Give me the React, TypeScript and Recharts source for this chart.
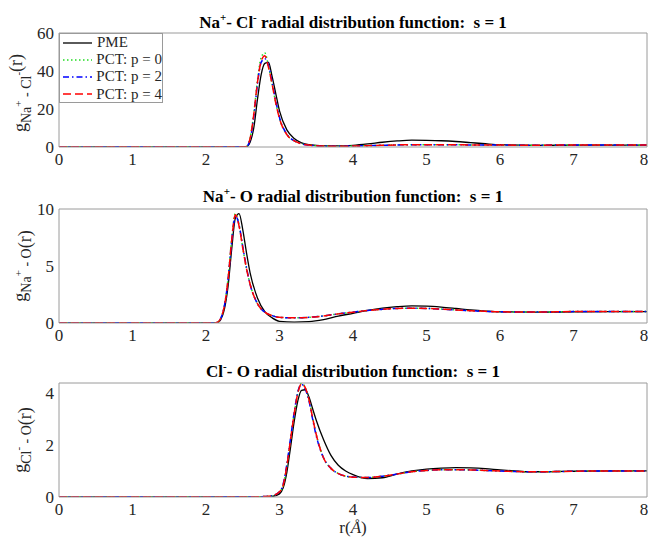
import React from "react";
import { LineChart, Line, XAxis, YAxis, Legend } from "recharts";

const FONT = "'Liberation Serif', 'Times New Roman', serif";
const BOX = "#9a9a9a";
const INK = "#262626";

const xTicks = [0, 1, 2, 3, 4, 5, 6, 7, 8];
const naClTicks = [0, 20, 40, 60];
const naOTicks = [0, 5, 10];
const clOTicks = [0, 2, 4];

// Na+ - Cl-
const rNaCl = [0, 1, 2, 2.5, 2.55, 2.6, 2.65, 2.7, 2.75, 2.8, 2.85, 2.9, 2.95, 3.0, 3.1, 3.2, 3.3, 3.4, 3.6, 3.8, 4.0, 4.2, 4.4, 4.6, 4.8, 5.0, 5.2, 5.4, 5.6, 5.8, 6.0, 6.5, 7.0, 7.5, 8.0];
const naClPme = [0, 0, 0, 0, 0.1, 2.5, 10, 25, 38, 44, 44.5, 37, 28, 19, 9, 4.5, 2.2, 1.2, 0.6, 0.6, 0.9, 1.6, 2.5, 3.2, 3.6, 3.5, 3.3, 2.9, 2.3, 1.7, 1.2, 0.9, 0.95, 1.0, 1.0];
const naClP0 = [0, 0, 0, 0, 0.3, 4.8, 17.5, 35, 47, 49.5, 42.5, 33, 23, 15, 6.6, 3.2, 1.7, 1.0, 0.5, 0.4, 0.5, 0.7, 0.9, 1.1, 1.2, 1.25, 1.2, 1.15, 1.1, 1.05, 1.0, 0.98, 1.0, 1.0, 1.0];
const naClP2 = [0, 0, 0, 0, 0.2, 4.0, 16, 33, 44.5, 46.5, 43, 34, 24, 15.5, 6.8, 3.3, 1.7, 1.0, 0.5, 0.4, 0.5, 0.7, 0.9, 1.1, 1.2, 1.25, 1.2, 1.15, 1.1, 1.05, 1.0, 0.98, 1.0, 1.0, 1.0];
const naClP4 = [0, 0, 0, 0, 0.3, 4.5, 17, 34, 45, 48, 42, 33, 23, 15, 6.5, 3.2, 1.7, 1.0, 0.5, 0.4, 0.5, 0.7, 0.9, 1.1, 1.2, 1.25, 1.2, 1.15, 1.1, 1.05, 1.0, 0.98, 1.0, 1.0, 1.0];

// Na+ - O
const rNaO = [0, 1, 2, 2.1, 2.15, 2.2, 2.25, 2.3, 2.35, 2.4, 2.45, 2.5, 2.55, 2.6, 2.7, 2.8, 2.9, 3.0, 3.2, 3.4, 3.6, 3.8, 4.0, 4.2, 4.4, 4.6, 4.8, 5.0, 5.2, 5.4, 5.6, 5.8, 6.0, 6.5, 7.0, 7.5, 8.0];
const naOPme = [0, 0, 0, 0, 0.03, 0.3, 1.2, 3.2, 6.5, 9.2, 9.6, 8.2, 6.2, 4.4, 2.2, 1.0, 0.45, 0.15, 0.08, 0.12, 0.3, 0.6, 0.85, 1.1, 1.3, 1.43, 1.5, 1.48, 1.4, 1.28, 1.15, 1.05, 0.98, 0.95, 0.98, 1.0, 1.0];
const naOP0 = [0, 0, 0, 0, 0.05, 0.4, 1.5, 3.9, 7.4, 9.6, 8.6, 6.6, 4.8, 3.4, 1.7, 0.95, 0.65, 0.5, 0.45, 0.5, 0.62, 0.8, 0.95, 1.1, 1.2, 1.28, 1.3, 1.28, 1.22, 1.15, 1.08, 1.02, 0.98, 0.96, 1.0, 1.0, 1.0];
const naOP2 = [0, 0, 0, 0, 0.05, 0.4, 1.5, 3.8, 7.2, 9.4, 8.6, 6.7, 4.9, 3.4, 1.7, 0.95, 0.65, 0.5, 0.45, 0.5, 0.62, 0.8, 0.95, 1.1, 1.2, 1.28, 1.3, 1.28, 1.22, 1.15, 1.08, 1.02, 0.98, 0.96, 1.0, 1.0, 1.0];
const naOP4 = [0, 0, 0, 0, 0.05, 0.4, 1.5, 3.8, 7.3, 9.5, 8.5, 6.6, 4.8, 3.4, 1.7, 0.95, 0.65, 0.5, 0.45, 0.5, 0.62, 0.8, 0.95, 1.1, 1.2, 1.28, 1.3, 1.28, 1.22, 1.15, 1.08, 1.02, 0.98, 0.96, 1.0, 1.0, 1.0];

// Cl- - O
const rClO = [0, 1, 2, 2.6, 2.8, 2.9, 3.0, 3.05, 3.1, 3.15, 3.2, 3.25, 3.3, 3.35, 3.4, 3.45, 3.5, 3.6, 3.7, 3.8, 3.9, 4.0, 4.2, 4.4, 4.6, 4.8, 5.0, 5.2, 5.4, 5.6, 5.8, 6.0, 6.2, 6.4, 6.6, 6.8, 7.0, 7.5, 8.0];
const clOPme = [0, 0, 0, 0, 0, 0.02, 0.12, 0.35, 0.95, 1.9, 2.9, 3.7, 4.1, 4.12, 3.85, 3.4, 2.95, 2.2, 1.6, 1.22, 1.0, 0.86, 0.71, 0.74, 0.88, 1.0, 1.07, 1.11, 1.13, 1.12, 1.09, 1.04, 1.0, 0.97, 0.97, 0.98, 0.99, 1.0, 1.0];
const clOP0 = [0, 0, 0, 0, 0.02, 0.05, 0.2, 0.45, 1.2, 2.2, 3.2, 4.0, 4.37, 4.2, 3.75, 3.05, 2.4, 1.5, 1.1, 0.9, 0.8, 0.76, 0.75, 0.8, 0.88, 0.97, 1.02, 1.05, 1.05, 1.04, 1.02, 1.0, 0.98, 0.97, 0.97, 0.98, 0.99, 1.0, 1.0];
const clOP2 = [0, 0, 0, 0, 0.02, 0.05, 0.2, 0.5, 1.25, 2.25, 3.25, 4.05, 4.33, 4.15, 3.7, 3.0, 2.35, 1.5, 1.1, 0.9, 0.8, 0.77, 0.75, 0.8, 0.88, 0.97, 1.02, 1.05, 1.05, 1.04, 1.02, 1.0, 0.98, 0.97, 0.97, 0.98, 0.99, 1.0, 1.0];
const clOP4 = [0, 0, 0, 0, 0.02, 0.05, 0.2, 0.45, 1.2, 2.2, 3.2, 4.0, 4.35, 4.2, 3.75, 3.05, 2.4, 1.5, 1.1, 0.9, 0.8, 0.76, 0.75, 0.8, 0.88, 0.97, 1.02, 1.05, 1.05, 1.04, 1.02, 1.0, 0.98, 0.97, 0.97, 0.98, 0.99, 1.0, 1.0];

const series = [
  { key: "pme", name: "PME", color: "#000000", dash: undefined, width: 1.3 },
  { key: "p0", name: "PCT: p = 0", color: "#22dd22", dash: "1.5 2.5", width: 1.5 },
  { key: "p2", name: "PCT: p = 2", color: "#0000ff", dash: "6 3 1.5 3", width: 1.5 },
  { key: "p4", name: "PCT: p = 4", color: "#ff0000", dash: "8 4", width: 1.5 },
];

const rows = (r: number[], pme: number[], p0: number[], p2: number[], p4: number[]) =>
  r.map((x, i) => ({ r: x, pme: pme[i], p0: p0[i], p2: p2[i], p4: p4[i] }));

const naClData = rows(rNaCl, naClPme, naClP0, naClP2, naClP4);
const naOData = rows(rNaO, naOPme, naOP0, naOP2, naOP4);
const clOData = rows(rClO, clOPme, clOP0, clOP2, clOP4);

// serif tick labels, drawn by hand so the font is certain
const XTick = ({ x, y, payload }: any) => (
  <text x={x} y={y} dy="0.71em" textAnchor="middle" fill={INK} fontSize={17} fontFamily={FONT}>
    {payload.value}
  </text>
);
const YTick = ({ x, y, payload }: any) => (
  <text x={x} y={y} dy="0.34em" textAnchor="end" fill={INK} fontSize={17} fontFamily={FONT}>
    {payload.value}
  </text>
);

function LegendBox() {
  return (
    <div
      style={{
        width: 104,
        height: 70,
        boxSizing: "border-box",
        border: `1px solid ${BOX}`,
        background: "#fff",
        fontFamily: FONT,
        fontSize: 15,
        color: INK,
      }}
    >
      {series.map((s) => (
        <div key={s.key} style={{ display: "flex", alignItems: "center", height: 17.2 }}>
          <svg width={36} height={10}>
            <line x1={3} x2={32} y1={5} y2={5} stroke={s.color} strokeWidth={s.width} strokeDasharray={s.dash} />
          </svg>
          <span style={{ marginLeft: 1, whiteSpace: "nowrap" }}>{s.name}</span>
        </div>
      ))}
    </div>
  );
}

interface PanelProps {
  data: { r: number }[];
  yTicks: number[];
  yMax: number;
  top: number;
  height: number;
  bottom: number;
  legend?: boolean;
}

function Panel({ data, yTicks, yMax, top, height, bottom, legend }: PanelProps) {
  const frame = { stroke: BOX };
  return (
    <div style={{ position: "absolute", left: 0, top }}>
      <LineChart width={648} height={height} data={data} margin={{ top: 33, right: 1, bottom, left: 0 }}>
        <XAxis xAxisId="x" dataKey="r" type="number" domain={[0, 8]} ticks={xTicks} height={25}
          axisLine={false} tickLine={false} tickSize={0} tickMargin={6} tick={<XTick />} />
        <XAxis xAxisId="xb" dataKey="r" type="number" domain={[0, 8]} ticks={xTicks} mirror
          tick={false} tickSize={5} axisLine={frame} tickLine={frame} />
        <XAxis xAxisId="xt" orientation="top" dataKey="r" type="number" domain={[0, 8]} ticks={xTicks} mirror
          tick={false} tickSize={5} axisLine={frame} tickLine={frame} />
        <YAxis yAxisId="y" type="number" domain={[0, yMax]} ticks={yTicks} width={59} allowDataOverflow
          axisLine={false} tickLine={false} tickSize={0} tickMargin={5} tick={<YTick />} />
        <YAxis yAxisId="yl" type="number" domain={[0, yMax]} ticks={yTicks} mirror allowDataOverflow
          tick={false} tickSize={5} axisLine={frame} tickLine={frame} />
        <YAxis yAxisId="yr" orientation="right" type="number" domain={[0, yMax]} ticks={yTicks} mirror allowDataOverflow
          tick={false} tickSize={5} axisLine={frame} tickLine={frame} />
        {series.map((s) => (
          <Line key={s.key} xAxisId="x" yAxisId="y" dataKey={s.key} name={s.name} type="monotone"
            stroke={s.color} strokeWidth={s.width} strokeDasharray={s.dash} dot={false} activeDot={false}
            isAnimationActive={false} />
        ))}
        {legend && (
          <Legend content={<LegendBox />} layout="vertical" align="center" verticalAlign="middle"
            wrapperStyle={{ left: 59, top: 33, width: 104, height: 70 }} />
        )}
      </LineChart>
    </div>
  );
}

function Title({ y, a, aSup, b, bSup }: { y: number; a: string; aSup: string; b: string; bSup?: string }) {
  return (
    <text x={353} y={y} textAnchor="middle" fontFamily={FONT} fontWeight="bold" fontSize={17} fill="#000" style={{ whiteSpace: "pre" }}>
      {a}
      <tspan fontSize={11} dy={-7}>{aSup}</tspan>
      <tspan dy={7}>{b}</tspan>
      {bSup && <tspan fontSize={11} dy={-7}>{bSup}</tspan>}
      <tspan dy={bSup ? 7 : 0}>{" radial distribution function:  s = 1"}</tspan>
    </text>
  );
}

function YLabel({ x, y, a, aSup, b, bSup }: { x: number; y: number; a: string; aSup: string; b: string; bSup?: string }) {
  return (
    <text transform={`translate(${x},${y}) rotate(-90)`} textAnchor="middle" fontFamily={FONT} fontSize={18} fill={INK} style={{ whiteSpace: "pre" }}>
      g
      <tspan fontSize={14} dy={5}>{a}</tspan>
      <tspan fontSize={11} dy={-9}>{aSup}</tspan>
      <tspan fontSize={14} dy={9}>{" " + b}</tspan>
      <tspan fontSize={11} dy={-9}>{bSup ?? ""}</tspan>
      <tspan fontSize={18} dy={0}>(r)</tspan>
    </text>
  );
}

export default function App() {
  return (
    <div style={{ position: "absolute", left: 0, top: 0, width: 648, height: 540, background: "#fff", fontFamily: FONT }}>
      <Panel data={naClData} yTicks={naClTicks} yMax={60} top={0} height={176} bottom={4} legend />
      <Panel data={naOData} yTicks={naOTicks} yMax={10} top={176} height={176} bottom={4} />
      <Panel data={clOData} yTicks={clOTicks} yMax={4.38} top={350} height={190} bottom={18} />
      <svg width={648} height={540} style={{ position: "absolute", left: 0, top: 0, pointerEvents: "none" }}>
        <Title y={28} a="Na" aSup="+" b="- Cl" bSup="-" />
        <Title y={202} a="Na" aSup="+" b="- O" />
        <Title y={377} a="Cl" aSup="-" b="- O" />
        <YLabel x={26} y={93} a="Na" aSup="+" b="- Cl" bSup="-" />
        <YLabel x={26} y={266} a="Na" aSup="+" b="- O" />
        <YLabel x={26} y={440} a="Cl" aSup="-" b="- O" />
        <text x={353} y={533} textAnchor="middle" fontFamily={FONT} fontSize={17} fill={INK}>
          r(<tspan fontStyle="italic">Å</tspan>)
        </text>
      </svg>
    </div>
  );
}
